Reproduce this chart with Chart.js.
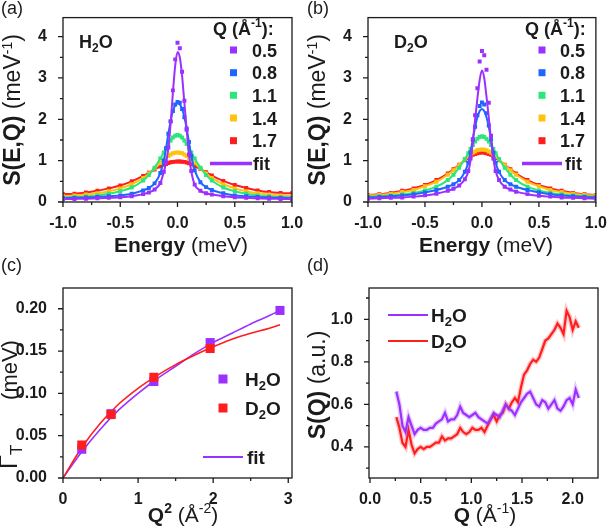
<!DOCTYPE html>
<html>
<head>
<meta charset="utf-8">
<script src="https://cdn.jsdelivr.net/npm/chart.js@4.4.1/dist/chart.umd.min.js"></script>
<style>
  body { margin: 0; background: #fff; width: 611px; height: 530px; position: relative; overflow: hidden; }
  canvas { position: absolute; left: 0; top: 0; }
</style>
</head>
<body>
<canvas id="pa" width="611" height="530"></canvas>
<canvas id="pb" width="611" height="530"></canvas>
<canvas id="pc" width="611" height="530"></canvas>
<canvas id="pd" width="611" height="530"></canvas>
<script>
// ---- data ----
const qLabels = ['0.5', '0.8', '1.1', '1.4', '1.7'];
const energy = [-1.0,-0.9,-0.8,-0.7,-0.6,-0.5,-0.4,-0.3,-0.25,-0.2,-0.15,-0.12,-0.1,-0.08,-0.06,-0.04,-0.02,0,
                0.02,0.04,0.06,0.08,0.1,0.12,0.15,0.2,0.25,0.3,0.4,0.5,0.6,0.7,0.8,0.9,1.0];

// (a) H2O fits
const h2oQ05 = [0.07,0.075,0.08,0.09,0.10,0.115,0.14,0.19,0.23,0.30,0.46,0.72,0.95,1.3,1.9,2.65,3.3,3.63,
                3.5,3.05,2.4,1.75,1.15,0.75,0.42,0.27,0.21,0.18,0.14,0.115,0.10,0.09,0.08,0.075,0.07];
const h2oQ08 = [0.09,0.10,0.11,0.12,0.14,0.16,0.20,0.28,0.34,0.45,0.70,1.0,1.3,1.65,1.95,2.2,2.34,2.39,
                2.36,2.25,2.05,1.78,1.45,1.12,0.77,0.48,0.36,0.29,0.21,0.16,0.14,0.12,0.11,0.10,0.09];
const h2oQ11 = [0.11,0.12,0.135,0.16,0.20,0.26,0.35,0.52,0.65,0.83,1.05,1.20,1.30,1.40,1.49,1.56,1.60,1.62,
                1.60,1.56,1.49,1.40,1.30,1.20,1.05,0.83,0.65,0.52,0.35,0.26,0.20,0.16,0.135,0.12,0.11];
const h2oQ14 = [0.14,0.16,0.18,0.21,0.26,0.33,0.43,0.58,0.69,0.81,0.94,1.02,1.07,1.11,1.15,1.18,1.19,1.20,
                1.19,1.18,1.15,1.11,1.07,1.02,0.94,0.81,0.69,0.58,0.43,0.33,0.26,0.21,0.18,0.16,0.14];
const h2oQ17 = [0.19,0.20,0.23,0.27,0.33,0.40,0.50,0.63,0.71,0.785,0.86,0.90,0.92,0.945,0.96,0.97,0.977,0.98,
                0.98,0.975,0.97,0.955,0.935,0.91,0.87,0.80,0.72,0.64,0.51,0.41,0.34,0.28,0.24,0.22,0.21];
// (a) measured points where they leave the fit
const h2oQ05pts = [0.07,0.075,0.08,0.09,0.10,0.115,0.14,0.19,0.23,0.30,0.46,0.73,0.96,1.32,1.95,2.7,3.45,3.85,
                   3.72,3.15,2.45,1.75,1.15,0.75,0.42,0.27,0.21,0.18,0.14,0.115,0.10,0.09,0.08,0.075,0.07];
const h2oQ08pts = [0.09,0.10,0.11,0.12,0.14,0.16,0.20,0.28,0.34,0.45,0.70,1.0,1.3,1.65,1.95,2.2,2.36,2.42,
                   2.40,2.25,2.05,1.78,1.45,1.12,0.77,0.48,0.36,0.29,0.21,0.16,0.14,0.12,0.11,0.10,0.09];

// (b) D2O fits
const d2oQ05 = [0.08,0.09,0.10,0.11,0.13,0.16,0.20,0.27,0.32,0.40,0.55,0.73,1.0,1.45,2.0,2.5,2.95,3.18,
                3.0,2.55,2.05,1.5,1.05,0.75,0.53,0.37,0.30,0.25,0.19,0.15,0.13,0.11,0.10,0.09,0.08];
const d2oQ08 = [0.11,0.12,0.14,0.16,0.19,0.23,0.29,0.37,0.43,0.53,0.73,0.95,1.2,1.52,1.82,2.05,2.2,2.25,
                2.2,2.05,1.82,1.52,1.2,0.95,0.73,0.53,0.43,0.37,0.29,0.23,0.19,0.16,0.14,0.12,0.11];
const d2oQ11 = [0.13,0.14,0.155,0.18,0.22,0.28,0.37,0.53,0.66,0.83,1.04,1.18,1.28,1.38,1.46,1.53,1.57,1.59,
                1.57,1.53,1.46,1.38,1.28,1.18,1.04,0.83,0.66,0.53,0.37,0.28,0.22,0.18,0.155,0.14,0.13];
const d2oQ14 = [0.16,0.17,0.20,0.24,0.29,0.38,0.49,0.66,0.77,0.89,1.03,1.10,1.15,1.19,1.22,1.25,1.265,1.27,
                1.265,1.25,1.22,1.19,1.15,1.10,1.03,0.89,0.77,0.66,0.49,0.38,0.29,0.24,0.20,0.17,0.16];
const d2oQ17 = [0.17,0.19,0.22,0.27,0.33,0.41,0.53,0.69,0.79,0.90,1.01,1.07,1.11,1.14,1.16,1.18,1.19,1.20,
                1.19,1.18,1.16,1.14,1.11,1.07,1.01,0.90,0.79,0.69,0.53,0.41,0.33,0.27,0.22,0.19,0.17];
const d2oQ05pts = [0.08,0.09,0.10,0.11,0.13,0.16,0.20,0.27,0.32,0.40,0.55,0.75,1.05,1.5,2.1,2.75,3.4,3.65,
                   3.55,3.2,2.4,1.6,1.05,0.75,0.53,0.37,0.30,0.25,0.19,0.15,0.13,0.11,0.10,0.09,0.08];
const d2oQ08pts = [0.11,0.12,0.14,0.16,0.19,0.23,0.29,0.37,0.43,0.53,0.73,0.95,1.2,1.52,1.82,2.1,2.32,2.41,
                   2.36,2.15,1.85,1.52,1.2,0.95,0.73,0.53,0.43,0.37,0.29,0.23,0.19,0.16,0.14,0.12,0.11];

// (c) relaxation width vs Q^2
const q2 = [0.25, 0.64, 1.21, 1.96, 2.89];
const gammaH2O = [0.034, 0.076, 0.114, 0.160, 0.198];
const gammaD2O = [0.039, 0.075, 0.119, 0.153];
const q2Fit = [0, 0.25, 0.5, 0.75, 1.0, 1.25, 1.5, 1.75, 2.0, 2.25, 2.5, 2.75, 2.89];
const fitH2O = [0, 0.031, 0.058, 0.081, 0.100, 0.117, 0.132, 0.147, 0.160, 0.171, 0.182, 0.192, 0.198];
const fitD2O = [0, 0.036, 0.065, 0.088, 0.106, 0.121, 0.134, 0.145, 0.155, 0.164, 0.171, 0.177, 0.181];

// (d) S(Q)
const qS = [0.26,0.29,0.32,0.35,0.38,0.41,0.44,0.47,0.50,0.53,0.56,0.59,0.62,0.65,0.68,0.71,0.74,0.77,0.80,0.83,
            0.86,0.89,0.92,0.95,0.98,1.01,1.04,1.07,1.10,1.13,1.16,1.19,1.22,1.25,1.28,1.31,1.34,1.37,1.40,1.43,
            1.46,1.49,1.52,1.55,1.58,1.61,1.64,1.67,1.70,1.73,1.76,1.79,1.82,1.85,1.88,1.91,1.94,1.97,2.00,2.03,2.06];
const sqH2O = [0.66,0.60,0.50,0.47,0.54,0.50,0.46,0.48,0.49,0.48,0.48,0.49,0.49,0.51,0.52,0.53,0.56,0.52,0.53,0.53,
               0.55,0.59,0.56,0.55,0.54,0.55,0.56,0.54,0.53,0.52,0.51,0.53,0.56,0.55,0.54,0.57,0.60,0.58,0.57,0.55,
               0.58,0.61,0.63,0.65,0.66,0.63,0.60,0.59,0.62,0.61,0.58,0.60,0.62,0.58,0.57,0.59,0.62,0.63,0.60,0.67,0.63];
const sqD2O = [0.54,0.49,0.42,0.40,0.48,0.41,0.37,0.39,0.40,0.39,0.40,0.40,0.41,0.42,0.42,0.45,0.43,0.44,0.44,0.45,
               0.46,0.49,0.47,0.46,0.47,0.49,0.48,0.48,0.49,0.47,0.50,0.53,0.55,0.52,0.55,0.56,0.60,0.58,0.61,0.63,
               0.61,0.68,0.74,0.76,0.79,0.81,0.80,0.82,0.86,0.90,0.91,0.93,0.95,0.98,0.96,0.93,1.04,1.01,0.95,0.99,0.96];

// tick lists
const eTicks = [-1,-0.75,-0.5,-0.25,0,0.25,0.5,0.75,1], eMajor = [-1,-0.5,0,0.5,1];
const sTicks = [0,0.5,1,1.5,2,2.5,3,3.5,4], sMajor = [0,1,2,3,4];
const q2Ticks = [0,0.5,1,1.5,2,2.5,3], q2Major = [0,1,2,3];
const gTicks = [0,0.025,0.05,0.075,0.1,0.125,0.15,0.175,0.2], gMajor = [0,0.05,0.1,0.15,0.2];
const qTicks = [0,0.25,0.5,0.75,1,1.25,1.5,1.75,2], qMajor = [0,0.5,1,1.5,2];
const sqTicks = [0.3,0.4,0.5,0.6,0.7,0.8,0.9,1.0,1.1], sqMajor = [0.4,0.6,0.8,1.0];

// ---- look ----
const FONT = '"Liberation Sans", Arial, Helvetica, sans-serif';
const INK = '#1b1b1b';
const PURPLE = '#9B30FF', RED = '#FF1E1E';
const qColors = [PURPLE, '#1E66FF', '#2CE67A', '#FFC20E', RED];

function rich(ctx, it) {
  ctx.save();
  ctx.translate(it.x, it.y);
  if (it.rot) ctx.rotate(it.rot);
  const parts = it.segs.map(s => {
    const font = (s.b ? 'bold ' : '') + (s.s || it.size) + 'px ' + FONT;
    ctx.font = font;
    return { t: s.t, dy: s.dy || 0, font, w: ctx.measureText(s.t).width };
  });
  const total = parts.reduce((a, p) => a + p.w, 0);
  let x = it.align === 'center' ? -total / 2 : 0;
  ctx.fillStyle = INK;
  ctx.textBaseline = 'alphabetic';
  parts.forEach(p => { ctx.font = p.font; ctx.fillText(p.t, x, p.dy); x += p.w; });
  ctx.restore();
}

function makeDecor(xMajor, yMajor, texts, extra) {
  return {
    id: 'decor',
    afterDraw(chart) {
      const { ctx, chartArea: a } = chart;
      const sx = chart.scales.x, sy = chart.scales.y;
      ctx.save();
      ctx.strokeStyle = INK;
      ctx.lineWidth = 1.3;
      ctx.strokeRect(a.left, a.top, a.right - a.left, a.bottom - a.top);
      ctx.beginPath();
      sx.ticks.forEach(t => {
        const p = sx.getPixelForValue(t.value), l = xMajor.includes(t.value) ? 5 : 3;
        ctx.moveTo(p, a.bottom); ctx.lineTo(p, a.bottom + l);
      });
      sy.ticks.forEach(t => {
        const p = sy.getPixelForValue(t.value), l = yMajor.includes(t.value) ? 5 : 3;
        ctx.moveTo(a.left - l, p); ctx.lineTo(a.left, p);
      });
      ctx.stroke();
      ctx.restore();
      texts.forEach(t => rich(ctx, t));
      if (extra) extra(ctx);
    }
  };
}

function axis(min, max, ticks, majors, fmt, size, isX) {
  return {
    type: 'linear', position: isX ? 'bottom' : 'left', min, max,
    afterBuildTicks: s => { s.ticks = ticks.map(v => ({ value: v })); },
    afterFit: s => { if (isX) s.height = size; else s.width = size; },
    grid: { display: false },
    border: { display: false },
    ticks: {
      autoSkip: false, maxRotation: 0, padding: isX ? 4 : 8, color: INK,
      font: { family: FONT, size: 16, weight: 'bold' },
      callback: v => majors.includes(v) ? fmt(v) : ''
    }
  };
}

function draw(id, pad, xAxis, yAxis, datasets, decor) {
  new Chart(document.getElementById(id), {
    type: 'scatter',
    data: { datasets },
    options: {
      responsive: false, animation: false, devicePixelRatio: 1,
      layout: { padding: pad },
      plugins: { legend: { display: false }, tooltip: { enabled: false } },
      scales: { x: xAxis, y: yAxis }
    },
    plugins: [decor]
  });
}

function spectra(fits, points) {
  const out = [];
  fits.forEach((f, i) => {
    out.push({ data: energy.map((e, k) => ({ x: e, y: f[k] })), showLine: true, borderColor: qColors[i],
               borderWidth: 2, pointRadius: 0, cubicInterpolationMode: 'monotone', order: i });
    out.push({ data: energy.map((e, k) => ({ x: e, y: points[i][k] })), showLine: false,
               backgroundColor: qColors[i], borderWidth: 0, pointStyle: 'rect', pointRadius: 2.8, order: i + 0.5 });
  });
  return out;
}

function spectraLegend(titleX, boxX, labelX, fitX1, fitX2, fitTextX) {
  const rows = [50, 72.7, 95.3, 118, 140.7];
  return ctx => {
    rich(ctx, { x: titleX, y: 35, size: 18, segs: [{ t: 'Q (Å', b: 1 }, { t: '-1', b: 1, s: 12, dy: -8 }, { t: '):', b: 1 }] });
    rows.forEach((y, i) => {
      ctx.fillStyle = qColors[i];
      ctx.fillRect(boxX - 3.5, y - 3.5, 7, 7);
      rich(ctx, { x: labelX, y: y + 6.5, size: 18, segs: [{ t: qLabels[i], b: 1 }] });
    });
    ctx.save();
    ctx.strokeStyle = PURPLE; ctx.lineWidth = 3.5;
    ctx.beginPath(); ctx.moveTo(fitX1, 163.5); ctx.lineTo(fitX2, 163.5); ctx.stroke();
    ctx.restore();
    rich(ctx, { x: fitTextX, y: 170, size: 18, segs: [{ t: 'fit', b: 1 }] });
  };
}

const yTitleSE = [{ t: 'S(E,Q)', b: 1 }, { t: ' (meV' }, { t: '-1', s: 14, dy: -8 }, { t: ')' }];
const xTitleE = [{ t: 'Energy', b: 1 }, { t: ' (meV)' }];
const fmt1 = v => v.toFixed(1);

// (a)
draw('pa', { left: 0, top: 13, right: 319, bottom: 265 },
  axis(-1, 1, eTicks, eMajor, fmt1, 63, true),
  axis(0, 4.46, sTicks, sMajor, v => String(v), 63, false),
  spectra([h2oQ05, h2oQ08, h2oQ11, h2oQ14, h2oQ17], [h2oQ05pts, h2oQ08pts, h2oQ11, h2oQ14, h2oQ17]),
  makeDecor(eMajor, sMajor, [
    { x: 1, y: 14, size: 18, segs: [{ t: '(a)' }] },
    { x: 79, y: 48, size: 18, segs: [{ t: 'H', b: 1 }, { t: '2', b: 1, s: 12, dy: 4 }, { t: 'O', b: 1 }] },
    { x: 181, y: 252, size: 21, align: 'center', segs: xTitleE },
    { x: 20, y: 110, size: 23, align: 'center', rot: -Math.PI / 2, segs: yTitleSE }
  ], spectraLegend(213, 233.5, 252, 210, 252, 253)));

// (b)
draw('pb', { left: 305, top: 13, right: 14, bottom: 265 },
  axis(-1, 1, eTicks, eMajor, fmt1, 63, true),
  axis(0, 4.46, sTicks, sMajor, v => String(v), 63, false),
  spectra([d2oQ05, d2oQ08, d2oQ11, d2oQ14, d2oQ17], [d2oQ05pts, d2oQ08pts, d2oQ11, d2oQ14, d2oQ17]),
  makeDecor(eMajor, sMajor, [
    { x: 307, y: 14, size: 18, segs: [{ t: '(b)' }] },
    { x: 394, y: 48, size: 18, segs: [{ t: 'D', b: 1 }, { t: '2', b: 1, s: 12, dy: 4 }, { t: 'O', b: 1 }] },
    { x: 486, y: 252, size: 21, align: 'center', segs: xTitleE },
    { x: 325, y: 110, size: 23, align: 'center', rot: -Math.PI / 2, segs: yTitleSE }
  ], spectraLegend(525, 542, 560, 522, 562, 565)));

// (c)
draw('pc', { left: 0, top: 288, right: 319, bottom: 0 },
  axis(0, 3.05, q2Ticks, q2Major, v => String(v), 52, true),
  axis(0, 0.2245, gTicks, gMajor, v => v.toFixed(2), 63, false),
  [
    { data: q2.slice(0, gammaD2O.length).map((x, i) => ({ x, y: gammaD2O[i] })), backgroundColor: RED,
      borderWidth: 0, pointStyle: 'rect', pointRadius: 6.4, order: 0 },
    { data: q2.map((x, i) => ({ x, y: gammaH2O[i] })), backgroundColor: PURPLE,
      borderWidth: 0, pointStyle: 'rect', pointRadius: 6.4, order: 1 },
    { data: q2Fit.map((x, i) => ({ x, y: fitD2O[i] })), showLine: true, borderColor: RED, borderWidth: 1.6,
      pointRadius: 0, cubicInterpolationMode: 'monotone', order: 2 },
    { data: q2Fit.map((x, i) => ({ x, y: fitH2O[i] })), showLine: true, borderColor: PURPLE, borderWidth: 1.6,
      pointRadius: 0, cubicInterpolationMode: 'monotone', order: 3 }
  ],
  makeDecor(q2Major, gMajor, [
    { x: 1, y: 271, size: 18, segs: [{ t: '(c)' }] },
    { x: 183, y: 522, size: 21, align: 'center',
      segs: [{ t: 'Q', b: 1 }, { t: '2', b: 1, s: 14, dy: -9 }, { t: ' (Å' }, { t: '-2', s: 14, dy: -9 }, { t: ')' }] },
    { x: 17, y: 370, size: 22, align: 'center', rot: -Math.PI / 2, segs: [{ t: '(meV)' }] },
    { x: 17, y: 457, size: 26, align: 'center', rot: -Math.PI / 2, segs: [{ t: 'Γ' }, { t: 'T', s: 17, dy: 5 }] },
    { x: 245, y: 386, size: 19, segs: [{ t: 'H', b: 1 }, { t: '2', b: 1, s: 13, dy: 4 }, { t: 'O', b: 1 }] },
    { x: 245, y: 415, size: 19, segs: [{ t: 'D', b: 1 }, { t: '2', b: 1, s: 13, dy: 4 }, { t: 'O', b: 1 }] },
    { x: 247, y: 464, size: 19, segs: [{ t: 'fit', b: 1 }] }
  ], ctx => {
    ctx.fillStyle = PURPLE; ctx.fillRect(218.5, 374.5, 9, 9);
    ctx.fillStyle = RED; ctx.fillRect(218.5, 403.5, 9, 9);
    ctx.strokeStyle = PURPLE; ctx.lineWidth = 2;
    ctx.beginPath(); ctx.moveTo(203, 457); ctx.lineTo(243, 457); ctx.stroke();
  }));

// (d)
draw('pd', { left: 305, top: 288, right: 13, bottom: 0 },
  axis(-0.01, 2.25, qTicks, qMajor, fmt1, 52, true),
  axis(0.254, 1.147, sqTicks, sqMajor, fmt1, 64, false),
  [
    { data: qS.map((x, i) => ({ x, y: sqH2O[i] })), showLine: true, borderColor: PURPLE, borderWidth: 2.2,
      pointRadius: 0, order: 0 },
    { data: qS.map((x, i) => ({ x, y: sqH2O[i] })), showLine: true, borderColor: 'rgba(155,48,255,0.25)',
      borderWidth: 5, pointRadius: 0, order: 1 },
    { data: qS.map((x, i) => ({ x, y: sqD2O[i] })), showLine: true, borderColor: RED, borderWidth: 2.2,
      pointRadius: 0, order: 2 },
    { data: qS.map((x, i) => ({ x, y: sqD2O[i] })), showLine: true, borderColor: 'rgba(255,30,30,0.25)',
      borderWidth: 5, pointRadius: 0, order: 3 }
  ],
  makeDecor(qMajor, sqMajor, [
    { x: 307, y: 271, size: 18, segs: [{ t: '(d)' }] },
    { x: 485, y: 522, size: 21, align: 'center',
      segs: [{ t: 'Q', b: 1 }, { t: ' (Å' }, { t: '-1', s: 14, dy: -9 }, { t: ')' }] },
    { x: 325, y: 385, size: 23, align: 'center', rot: -Math.PI / 2,
      segs: [{ t: 'S(Q)', b: 1 }, { t: ' (a.u.)' }] },
    { x: 431, y: 322, size: 19, segs: [{ t: 'H', b: 1 }, { t: '2', b: 1, s: 13, dy: 4 }, { t: 'O', b: 1 }] },
    { x: 431, y: 348, size: 19, segs: [{ t: 'D', b: 1 }, { t: '2', b: 1, s: 13, dy: 4 }, { t: 'O', b: 1 }] }
  ], ctx => {
    ctx.lineWidth = 2.2;
    ctx.strokeStyle = PURPLE; ctx.beginPath(); ctx.moveTo(388, 315); ctx.lineTo(428, 315); ctx.stroke();
    ctx.strokeStyle = RED; ctx.beginPath(); ctx.moveTo(388, 341); ctx.lineTo(428, 341); ctx.stroke();
  }));
</script>
</body>
</html>
